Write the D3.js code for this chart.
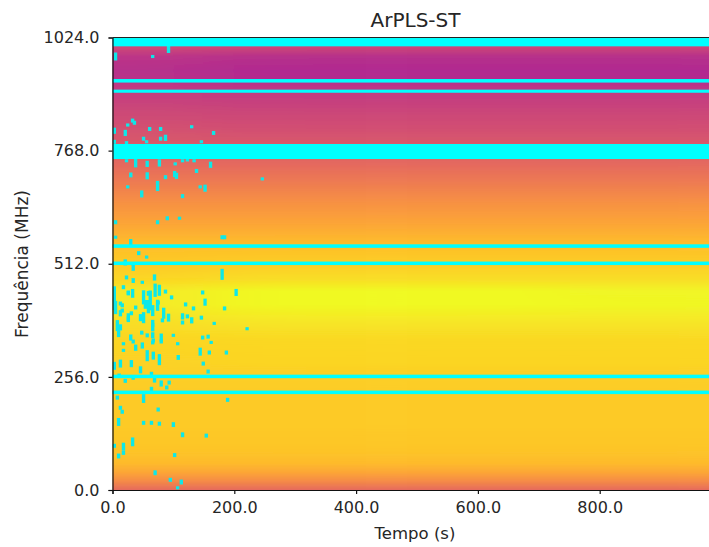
<!DOCTYPE html>
<html lang="pt-br">
<head>
  <meta charset="utf-8">
  <title>ArPLS-ST</title>
  <script src="https://d3js.org/d3.v7.min.js"></script>
  <style>
    html, body { margin: 0; padding: 0; background: #fff; overflow: hidden; }
    text { font-family: "DejaVu Sans", sans-serif; fill: #262626; }
  </style>
</head>
<body>
  <div id="chart"></div>
  <script>
    "use strict"
    // eixos
    var xTicks = [0, 200, 400, 600, 800];
    var yTicks = [0, 256, 512, 768, 1024];

    // fundo: nivel (0-1 no colormap) por frequencia, em alguns instantes
    var rowFreqs = [0, 20, 40, 60, 80, 100, 150, 200, 250, 290, 340, 385, 420, 450, 475, 510, 555, 600, 650, 700, 750, 800, 850, 900, 930, 950, 980, 1000, 1024];
    var colTimes = [0, 300, 600, 900];
    var levels0 = [.62, .72, .80, .85, .87, .88, .89, .89, .90, .91, .915, .94, .96, .96, .92, .89, .86, .80, .74, .665, .60, .55, .51, .47, .43, .42, .44, .50, .53];
    var levels1 = [.62, .72, .80, .85, .87, .88, .89, .89, .90, .915, .925, .96, 1, 1, .94, .90, .86, .80, .74, .665, .60, .54, .50, .46, .41, .40, .42, .49, .52];
    var levels2 = [.62, .72, .80, .85, .87, .88, .89, .89, .90, .915, .925, .96, 1, 1, .94, .90, .86, .80, .74, .665, .60, .54, .50, .46, .41, .40, .42, .49, .52];
    var levels3 = [.62, .72, .80, .85, .87, .88, .89, .89, .90, .915, .925, .96, .995, .99, .94, .90, .86, .80, .74, .665, .60, .54, .50, .46, .41, .40, .42, .49, .52];

    // faixas marcadas em toda a duracao [inicio, fim] em MHz
    var bandFreqs = [[1004, 1024], [749, 783], [922, 930], [899, 906], [548, 556], [509, 517], [253, 261], [217, 225]];

    // celulas marcadas: [tempo (s), frequencia (MHz), altura (MHz)]
    var flagCells = [
      [5, 981, 18], [66, 981, 7], [92, 997, 16],
      [33, 836, 9], [36, 831, 9], [25, 826, 7], [3, 813, 14], [21, 808, 14], [61, 817, 9], [79, 817, 9], [130, 822, 7], [166, 808, 9],
      [87, 797, 14], [79, 795, 9], [51, 795, 9], [3, 788, 9], [23, 786, 7], [56, 788, 7], [146, 788, 7],
      [38, 740, 20], [57, 738, 14], [77, 740, 16], [23, 745, 7], [103, 738, 7], [115, 745, 7], [123, 747, 7], [134, 745, 7], [161, 736, 14],
      [30, 713, 11], [57, 711, 16], [87, 708, 9], [102, 715, 14], [105, 711, 14], [138, 722, 9], [246, 704, 7],
      [25, 686, 7], [48, 670, 16], [74, 688, 23], [115, 665, 9], [152, 683, 16], [144, 686, 7],
      [5, 606, 9], [74, 606, 9], [90, 615, 9], [110, 615, 7],
      [5, 572, 7], [30, 561, 14], [180, 572, 9], [184, 572, 9],
      [43, 536, 9], [56, 527, 7], [21, 515, 14], [34, 506, 20],
      [23, 481, 9], [34, 474, 11], [49, 470, 7], [69, 481, 14], [180, 488, 25],
      [3, 445, 32], [3, 420, 25], [18, 459, 9], [33, 445, 20], [26, 445, 9], [51, 436, 32], [59, 445, 11], [70, 452, 30], [77, 452, 25], [87, 449, 9], [97, 436, 9], [148, 447, 9], [152, 425, 16], [203, 447, 16],
      [120, 420, 9], [133, 411, 9], [184, 411, 9],
      [54, 420, 20], [59, 415, 30], [66, 406, 25], [74, 418, 25], [51, 390, 25], [46, 390, 16], [26, 390, 20], [31, 400, 9], [38, 413, 9], [16, 418, 9], [13, 400, 14],
      [8, 372, 25], [13, 368, 14], [30, 345, 14], [84, 400, 25], [92, 390, 18], [82, 384, 9], [66, 368, 18], [48, 356, 9], [66, 350, 14], [80, 345, 18], [57, 350, 9],
      [26, 447, 9], [62, 429, 45], [75, 424, 9], [13, 422, 9], [16, 406, 9], [26, 388, 9], [66, 377, 16], [10, 354, 16], [67, 338, 9], [5, 413, 30],
      [115, 393, 14], [123, 393, 9], [130, 384, 14], [115, 379, 9], [146, 390, 9], [167, 377, 7], [221, 365, 7], [148, 345, 9], [157, 347, 9], [100, 350, 7],
      [3, 281, 18], [13, 286, 18], [31, 286, 16], [18, 316, 7], [38, 322, 14], [49, 327, 14], [34, 336, 9], [18, 331, 7],
      [57, 304, 25], [67, 304, 18], [77, 295, 25], [66, 334, 9], [80, 336, 9], [107, 331, 7], [108, 300, 11],
      [144, 313, 18], [159, 311, 9], [162, 334, 7], [187, 311, 9], [149, 286, 9], [157, 268, 9],
      [46, 272, 16], [64, 263, 9], [11, 259, 9], [21, 247, 9], [34, 254, 9], [69, 250, 14],
      [80, 241, 14], [93, 243, 9], [89, 232, 9], [64, 229, 9],
      [8, 209, 9], [51, 207, 20], [13, 186, 9], [16, 177, 9], [189, 204, 9],
      [10, 154, 18], [75, 182, 9], [51, 152, 9], [64, 152, 9], [77, 150, 9], [100, 148, 11],
      [115, 125, 11], [154, 123, 9],
      [33, 109, 20], [3, 100, 9], [18, 98, 18], [18, 84, 9], [10, 77, 11], [102, 79, 9],
      [70, 39, 11], [95, 23, 9], [113, 18, 11], [107, 5, 7]
    ];

    var cellTime = 5.5; // largura da celula em s

    var svg = d3.select("#chart").append("svg")
      .attr("width", 709)
      .attr("height", 547);

    var x = d3.scaleLinear().domain([0, 1000]).range([112.5, 721.5]);
    var y = d3.scaleLinear().domain([0, 1024]).range([490, 37.5]);
    var cor = d3.scaleSequential(d3.interpolatePlasma).domain([0, 1]);

    var defs = svg.append("defs");
    defs.append("clipPath").attr("id", "area")
      .append("rect")
      .attr("x", x(0)).attr("y", y(1024))
      .attr("width", x(1000) - x(0)).attr("height", y(0) - y(1024));
    defs.append("filter").attr("id", "horiz")
      .attr("filterUnits", "userSpaceOnUse")
      .attr("x", -400).attr("y", 0).attr("width", 1600).attr("height", 547)
      .append("feGaussianBlur").attr("stdDeviation", "45 0");
    defs.append("filter").attr("id", "leve")
      .attr("filterUnits", "userSpaceOnUse")
      .attr("x", 0).attr("y", 0).attr("width", 800).attr("height", 547)
      .append("feGaussianBlur").attr("stdDeviation", "0.75");

    // gradiente vertical de cada coluna de tempo
    var colLevels = [levels0, levels1, levels2, levels3];
    colLevels.forEach(function (niveis, c) {
      var g = defs.append("linearGradient").attr("id", "col" + c)
        .attr("gradientUnits", "userSpaceOnUse")
        .attr("x1", 0).attr("x2", 0)
        .attr("y1", y(0)).attr("y2", y(1024));
      g.selectAll("stop").data(rowFreqs).enter().append("stop")
        .attr("offset", function (f) { return f / 1024; })
        .attr("stop-color", function (f, i) { return cor(niveis[i]); });
    });

    var area = svg.append("g").attr("clip-path", "url(#area)");

    var fundo = area.append("g").attr("filter", "url(#horiz)");
    fundo.selectAll("rect").data(colTimes).enter().append("rect")
      .attr("x", function (t, i) { return i == 0 ? -400 : x((t + colTimes[i - 1]) / 2); })
      .attr("width", function (t, i) {
        var ini = i == 0 ? -400 : x((t + colTimes[i - 1]) / 2);
        var fim = i == colTimes.length - 1 ? 1200 : x((t + colTimes[i + 1]) / 2);
        return fim - ini;
      })
      .attr("y", y(1024))
      .attr("height", y(0) - y(1024))
      .attr("fill", function (t, i) { return "url(#col" + i + ")"; });

    var marcas = area.append("g").attr("filter", "url(#leve)");
    marcas.selectAll(".cell").data(flagCells).enter().append("rect")
      .attr("class", "cell")
      .attr("x", function (d) { return x(d[0]) - (x(cellTime) - x(0)) / 2; })
      .attr("width", x(cellTime) - x(0))
      .attr("y", function (d) { return y(d[1] + d[2] / 2); })
      .attr("height", function (d) { return y(0) - y(d[2]); })
      .attr("fill", "#10e8e8");
    marcas.selectAll(".band").data(bandFreqs).enter().append("rect")
      .attr("class", "band")
      .attr("x", x(0) - 5)
      .attr("width", x(1000) - x(0) + 10)
      .attr("y", function (d) { return y(d[1]); })
      .attr("height", function (d) { return y(d[0]) - y(d[1]); })
      .attr("fill", "#00ffff");

    // eixos
    var eixoX = svg.append("g")
      .attr("transform", "translate(0," + y(0) + ")")
      .call(d3.axisBottom(x).tickValues(xTicks).tickFormat(d3.format(".1f")).tickSize(4).tickPadding(8));
    var eixoY = svg.append("g")
      .attr("transform", "translate(" + x(0) + ",0)")
      .call(d3.axisLeft(y).tickValues(yTicks).tickFormat(d3.format(".1f")).tickSize(4).tickPadding(9));
    svg.append("line")
      .attr("x1", x(0)).attr("x2", 709)
      .attr("y1", y(1024)).attr("y2", y(1024))
      .attr("stroke", "#222").attr("stroke-width", 1);
    svg.selectAll(".tick text").style("font-size", "16px");
    svg.selectAll(".domain, .tick line").attr("stroke", "#111").attr("stroke-width", 1.2);

    svg.append("text")
      .attr("x", 415.5).attr("y", 27)
      .attr("text-anchor", "middle")
      .style("font-size", "20px")
      .text("ArPLS-ST");
    svg.append("text")
      .attr("x", 415).attr("y", 539)
      .attr("text-anchor", "middle")
      .style("font-size", "16.5px")
      .text("Tempo (s)");
    svg.append("text")
      .attr("transform", "translate(28,264) rotate(-90)")
      .attr("text-anchor", "middle")
      .style("font-size", "17px")
      .text("Frequência (MHz)");
  </script>
</body>
</html>
